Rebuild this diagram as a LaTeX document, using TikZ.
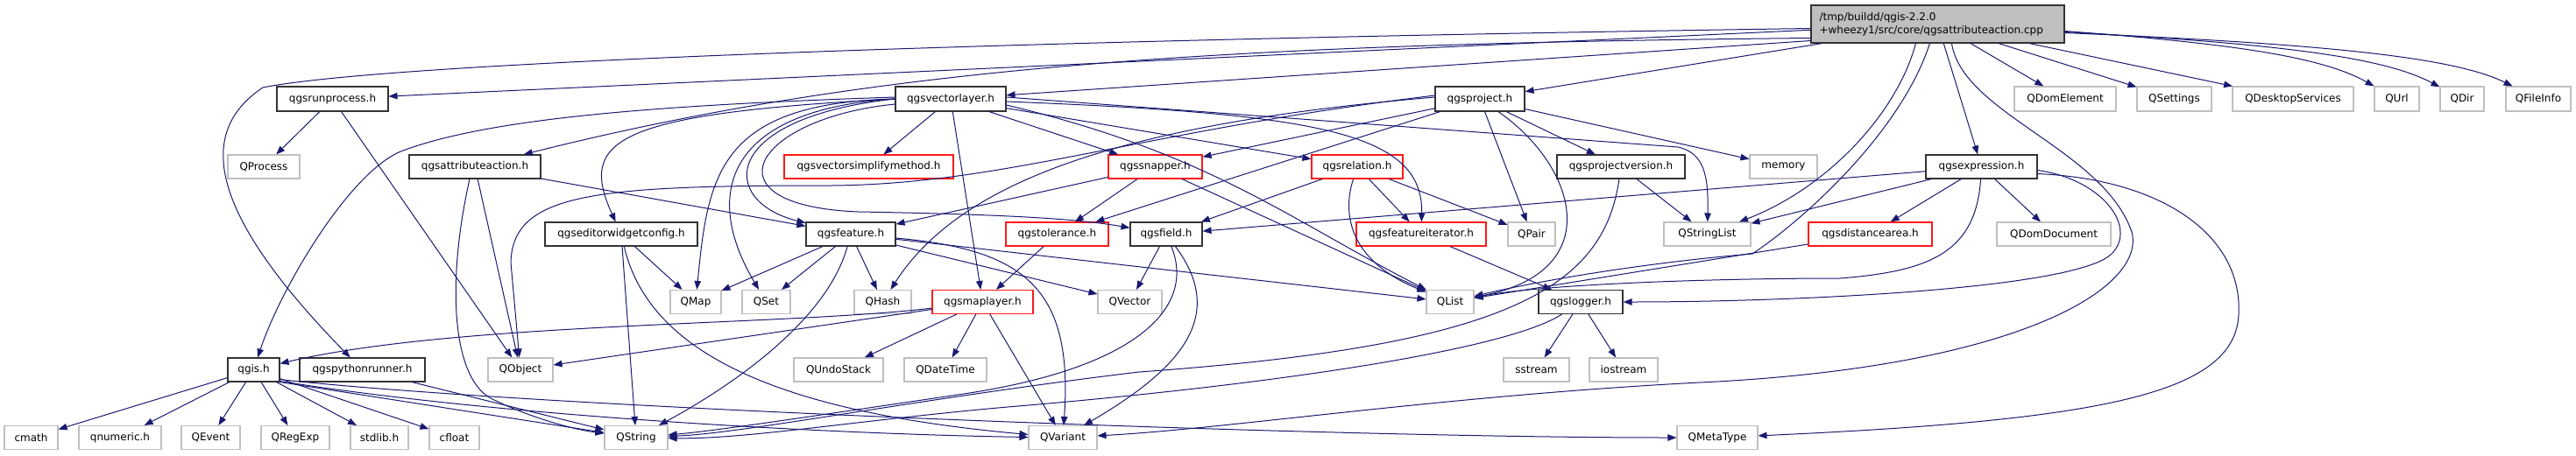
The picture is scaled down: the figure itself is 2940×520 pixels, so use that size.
\documentclass[tikz,border=0pt]{standalone}
\usepackage{fontspec}
\setmainfont{DejaVu Sans}
\usetikzlibrary{arrows.meta}

\definecolor{edgeblue}{HTML}{191970}
\definecolor{extgray}{HTML}{BFBFBF}

\begin{document}
\begin{tikzpicture}[x=1pt, y=1pt, >={Triangle[length=10pt,width=7.5pt]},
    font=\fontsize{12}{15}\selectfont,
    hdr/.style={draw=black!80, line width=1.1pt, fill=white, inner sep=0pt, minimum height=27pt},
    cut/.style={hdr, draw=red!90},
    ext/.style={hdr, draw=extgray},
    dep/.style={->, draw=edgeblue, line width=1pt}]
    \useasboundingbox (0,0) rectangle (2940,-520);

    % source file
    \node[hdr, fill=extgray, minimum width=289pt, minimum height=43pt, text width=270pt, align=left] (main) at (2211.5,-27.5) {/tmp/buildd/qgis-2.2.0\\+wheezy1/src/core/qgsattributeaction.cpp};

    % row 2
    \node[hdr, minimum width=127pt, minimum height=28pt] (runprocess) at (379.5,-113) {qgsrunprocess.h};
    \node[hdr, minimum width=126pt, minimum height=28pt] (vectorlayer) at (1085,-113) {qgsvectorlayer.h};
    \node[hdr, minimum width=102pt, minimum height=28pt] (project) at (1689,-113) {qgsproject.h};
    \node[ext, minimum width=116pt, minimum height=28pt] (qdomelement) at (2357,-113) {QDomElement};
    \node[ext, minimum width=85pt, minimum height=28pt] (qsettings) at (2481.5,-113) {QSettings};
    \node[ext, minimum width=138pt, minimum height=28pt] (qdesktop) at (2617,-113) {QDesktopServices};
    \node[ext, minimum width=51pt, minimum height=28pt] (qurl) at (2735.5,-113) {QUrl};
    \node[ext, minimum width=50pt, minimum height=28pt] (qdir) at (2810,-113) {QDir};
    \node[ext, minimum width=74pt, minimum height=28pt] (qfileinfo) at (2897,-113) {QFileInfo};

    % row 3
    \node[ext, minimum width=82pt] (qprocess) at (301,-190.5) {QProcess};
    \node[hdr, minimum width=150pt] (attraction) at (542,-190.5) {qgsattributeaction.h};
    \node[cut, minimum width=193pt] (simplify) at (991.5,-190.5) {qgsvectorsimplifymethod.h};
    \node[cut, minimum width=107pt] (snapper) at (1318.5,-190.5) {qgssnapper.h};
    \node[cut, minimum width=104pt] (relation) at (1549,-190.5) {qgsrelation.h};
    \node[hdr, minimum width=146pt] (projversion) at (1850,-190.5) {qgsprojectversion.h};
    \node[ext, minimum width=77pt] (memory) at (2035.5,-190.5) {memory};
    \node[hdr, minimum width=127pt] (expression) at (2261.5,-190.5) {qgsexpression.h};

    % row 4
    \node[hdr, minimum width=174pt] (editorcfg) at (709,-267.5) {qgseditorwidgetconfig.h};
    \node[hdr, minimum width=102pt] (feature) at (971,-267.5) {qgsfeature.h};
    \node[cut, minimum width=117pt] (tolerance) at (1206.5,-267.5) {qgstolerance.h};
    \node[hdr, minimum width=82pt] (field) at (1331,-267.5) {qgsfield.h};
    \node[cut, minimum width=148pt] (featiter) at (1622,-267.5) {qgsfeatureiterator.h};
    \node[ext, minimum width=54pt] (qpair) at (1748,-267.5) {QPair};
    \node[ext, minimum width=99pt] (qstringlist) at (1948.5,-267.5) {QStringList};
    \node[cut, minimum width=141pt] (distarea) at (2134.5,-267.5) {qgsdistancearea.h};
    \node[ext, minimum width=130pt] (qdomdoc) at (2344,-267.5) {QDomDocument};

    % row 5
    \node[ext, minimum width=58pt] (qmap) at (794,-345) {QMap};
    \node[ext, minimum width=55pt] (qset) at (874.5,-345) {QSet};
    \node[ext, minimum width=65pt] (qhash) at (1007.5,-345) {QHash};
    \node[cut, minimum width=115pt] (maplayer) at (1121.5,-345) {qgsmaplayer.h};
    \node[ext, minimum width=73pt] (qvector) at (1289.5,-345) {QVector};
    \node[ext, minimum width=54pt] (qlist) at (1655,-345) {QList};
    \node[hdr, minimum width=96pt] (logger) at (1804,-345) {qgslogger.h};

    % row 6
    \node[hdr, minimum width=59pt] (qgis) at (289.5,-422.5) {qgis.h};
    \node[hdr, minimum width=143pt] (pyrunner) at (413.5,-422.5) {qgspythonrunner.h};
    \node[ext, minimum width=74pt] (qobject) at (594,-422.5) {QObject};
    \node[ext, minimum width=102pt] (qundostack) at (957,-422.5) {QUndoStack};
    \node[ext, minimum width=94pt] (qdatetime) at (1079,-422.5) {QDateTime};
    \node[ext, minimum width=75pt] (sstream) at (1753.5,-422.5) {sstream};
    \node[ext, minimum width=78pt] (iostream) at (1853,-422.5) {iostream};

    % row 7
    \node[ext, minimum width=61pt] (cmath) at (35.5,-500) {cmath};
    \node[ext, minimum width=94pt] (qnumeric) at (137,-500) {qnumeric.h};
    \node[ext, minimum width=67pt] (qevent) at (240.5,-500) {QEvent};
    \node[ext, minimum width=78pt] (qregexp) at (337,-500) {QRegExp};
    \node[ext, minimum width=66pt] (stdlib) at (433,-500) {stdlib.h};
    \node[ext, minimum width=57pt] (cfloat) at (518.5,-500) {cfloat};
    \node[ext, minimum width=72pt] (qstring) at (726,-500) {QString};
    \node[ext, minimum width=78pt] (qvariant) at (1213,-500) {QVariant};
    \node[ext, minimum width=92pt] (qmetatype) at (1960,-500) {QMetaType};

    % includes of the source file
    \draw[dep] (main) -- (runprocess);
    \draw[dep] ([yshift=-5pt]main.west) .. controls (1200,-45) and (450,-70) .. (300,-100) .. controls (225,-150) and (235,-240) .. (pyrunner);
    \draw[dep] ([yshift=-16pt]main.west) .. controls (1400,-50) and (1000,-75) .. (attraction);
    \draw[dep] ([yshift=-19pt]main.west) -- (vectorlayer);
    \draw[dep] ([xshift=13pt]main.south west) -- (project);
    \draw[dep] ([xshift=120pt]main.south west) .. controls (2165,-130) and (2085,-215) .. (qstringlist);
    \draw[dep] ([xshift=136pt]main.south west) .. controls (2170,-150) and (2060,-250) .. (2000,-290) .. controls (1880,-300) and (1760,-320) .. (qlist);
    \draw[dep] (main) -- (expression);
    \draw[dep] ([xshift=161pt]main.south west) .. controls (2240,-130) and (2400,-170) .. (2433,-265) .. controls (2450,-330) and (2300,-420) .. (1940,-437) .. controls (1650,-452) and (1400,-490) .. (qvariant);
    \draw[dep] (main) -- (qdomelement);
    \draw[dep] (main) -- (qsettings);
    \draw[dep] (main) -- (qdesktop);
    \draw[dep] ([yshift=-8pt]main.east) .. controls (2550,-50) and (2650,-65) .. (qurl);
    \draw[dep] ([yshift=-9pt]main.east) .. controls (2600,-50) and (2720,-65) .. (qdir);
    \draw[dep] ([yshift=-10pt]main.east) .. controls (2650,-50) and (2800,-65) .. (qfileinfo);

    % qgsvectorlayer.h
    \draw[dep] (vectorlayer) -- (simplify);
    \draw[dep] (vectorlayer) -- (snapper);
    \draw[dep] (vectorlayer) -- (relation);
    \draw[dep] ([yshift=-3pt]vectorlayer.east) .. controls (1500,-130) and (1625,-150) .. (featiter);
    \draw[dep] ([yshift=2pt]vectorlayer.east) -- (1915,-168) .. controls (1945,-175) and (1950,-200) .. (qstringlist);
    \draw[dep] ([yshift=-7pt]vectorlayer.east) .. controls (1380,-175) and (1470,-250) .. (qlist);
    \draw[dep] (vectorlayer) -- (maplayer);
    \draw[dep] (vectorlayer.west) .. controls (820,-135) and (820,-230) .. (feature);
    \draw[dep] (vectorlayer.west) .. controls (820,-118) and (808,-200) .. (qmap);
    \draw[dep] (vectorlayer.west) .. controls (830,-125) and (800,-220) .. (qset);
    \draw[dep] ([yshift=-6pt]vectorlayer.west) .. controls (860,-135) and (800,-235) .. (980,-242) .. controls (1150,-245) and (1230,-250) .. (field);
    \draw[dep] (vectorlayer.west) .. controls (700,-130) and (660,-160) .. (editorcfg);
    \draw[dep] ([yshift=2pt]vectorlayer.west) .. controls (750,-120) and (560,-135) .. (460,-172) .. controls (400,-194) and (320,-330) .. (qgis);

    % qgsproject.h
    \draw[dep] ([yshift=4pt]project.west) .. controls (1300,-150) and (1150,-210) .. (950,-212) .. controls (680,-212) and (585,-220) .. (583,-300) -- (qobject);
    \draw[dep] ([yshift=2pt]project.west) .. controls (1300,-140) and (1100,-200) .. (qhash);
    \draw[dep] (project) -- (snapper);
    \draw[dep] (project) -- (tolerance);
    \draw[dep] (project) -- (qpair);
    \draw[dep] (project) .. controls (1800,-190) and (1835,-310) .. (qlist);
    \draw[dep] (project) -- (projversion);
    \draw[dep] (project) -- (memory);

    % qgsattributeaction.h, qgsrunprocess.h, qgspythonrunner.h
    \draw[dep] (attraction) -- (feature);
    \draw[dep] (attraction) -- (qobject);
    \draw[dep] ([xshift=-6pt]attraction.south) .. controls (510,-320) and (515,-430) .. (560,-455) .. controls (600,-475) and (650,-490) .. (qstring);
    \draw[dep] (runprocess) -- (qprocess);
    \draw[dep] (runprocess) -- (qobject);
    \draw[dep] (pyrunner) -- (qstring);

    % qgis.h
    \draw[dep] (qgis) -- (cmath);
    \draw[dep] (qgis) -- (qnumeric);
    \draw[dep] (qgis) -- (qevent);
    \draw[dep] (qgis) -- (qregexp);
    \draw[dep] (qgis) -- (stdlib);
    \draw[dep] (qgis) -- (cfloat);
    \draw[dep] (qgis.south east) -- (qstring);
    \draw[dep] ([yshift=1pt]qgis.south east) .. controls (600,-480) and (1000,-497) .. (qvariant);
    \draw[dep] ([yshift=3pt]qgis.south east) .. controls (600,-465) and (1500,-500) .. (qmetatype);

    % qgsfeature.h
    \draw[dep] (feature) -- (qmap);
    \draw[dep] (feature) -- (qset);
    \draw[dep] (feature) -- (qhash);
    \draw[dep] (feature) .. controls (940,-380) and (800,-460) .. (qstring);
    \draw[dep] (feature) -- (qlist);
    \draw[dep] (feature) -- (qvector);
    \draw[dep] (feature) .. controls (1170,-285) and (1225,-330) .. (qvariant);

    % qgsmaplayer.h and the red ones
    \draw[dep] (maplayer) .. controls (900,-372) and (520,-368) .. (qgis);
    \draw[dep] (maplayer) -- (qobject);
    \draw[dep] (maplayer) -- (qundostack);
    \draw[dep] (maplayer) -- (qdatetime);
    \draw[dep] (maplayer) -- (qvariant);
    \draw[dep] (tolerance) -- (maplayer);
    \draw[dep] (snapper) -- (feature);
    \draw[dep] (snapper) -- (tolerance);
    \draw[dep] (snapper) -- (qlist);
    \draw[dep] (relation) -- (field);
    \draw[dep] (relation) .. controls (1530,-250) and (1545,-300) .. (qlist);
    \draw[dep] (relation) -- (featiter);
    \draw[dep] (relation) -- (qpair);
    \draw[dep] (featiter) -- (logger);
    \draw[dep] (distarea) -- (qlist);

    % qgsfield.h
    \draw[dep] (field) -- (qvector);
    \draw[dep] (field) .. controls (1365,-350) and (1300,-420) .. (1100,-450) .. controls (950,-472) and (820,-492) .. (qstring);
    \draw[dep] (field) .. controls (1400,-360) and (1350,-420) .. (qvariant);

    % qgsprojectversion.h, qgslogger.h, qgseditorwidgetconfig.h
    \draw[dep] (projversion) -- (qstringlist);
    \draw[dep] (projversion) .. controls (1830,-330) and (1720,-395) .. (1300,-425) .. controls (1050,-455) and (850,-495) .. (qstring);
    \draw[dep] (logger) -- (sstream);
    \draw[dep] (logger) -- (iostream);
    \draw[dep] (logger) .. controls (1720,-400) and (1450,-440) .. (1150,-465) .. controls (980,-480) and (850,-502) .. (qstring);
    \draw[dep] (editorcfg) -- (qmap);
    \draw[dep] (editorcfg) -- (qstring);
    \draw[dep] (editorcfg) .. controls (740,-400) and (880,-470) .. (qvariant);

    % qgsexpression.h
    \draw[dep] (expression) -- (field);
    \draw[dep] (expression) -- (qstringlist);
    \draw[dep] (expression) -- (distarea);
    \draw[dep] (expression) -- (qdomdoc);
    \draw[dep] (expression) .. controls (2255,-290) and (2200,-310) .. (2100,-318) .. controls (1950,-318) and (1760,-325) .. (qlist);
    \draw[dep] ([yshift=-4pt]expression.east) .. controls (2400,-205) and (2440,-260) .. (2410,-290) .. controls (2370,-330) and (2050,-345) .. (logger);
    \draw[dep] ([yshift=-8pt]expression.east) .. controls (2470,-205) and (2560,-270) .. (2555,-360) .. controls (2550,-450) and (2400,-480) .. (qmetatype);
\end{tikzpicture}
\end{document}
